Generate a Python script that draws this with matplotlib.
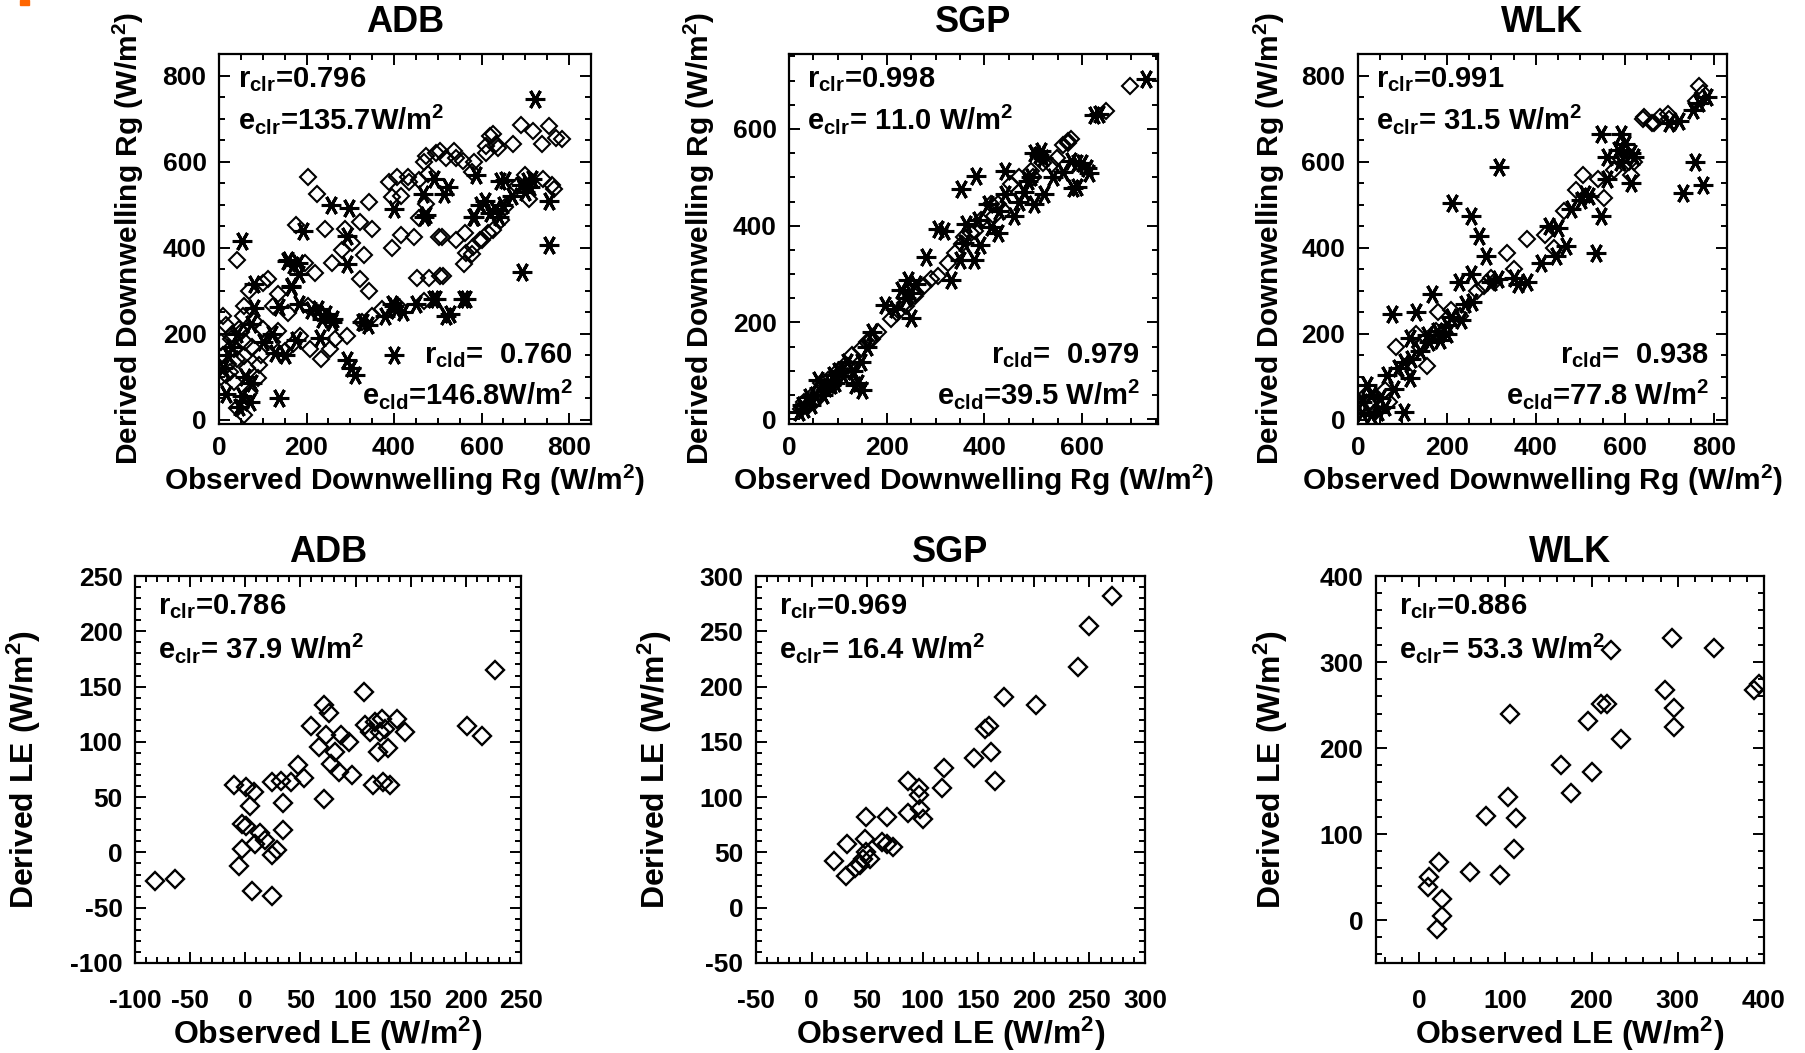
"""
Derived vs observed downwelling shortwave (Rg) and latent heat (LE)
at ADB / SGP / WLK — clear-sky (diamonds) and cloudy (asterisks) samples.
"""

import matplotlib
matplotlib.use("Agg")
import matplotlib.pyplot as plt
from matplotlib.patches import Rectangle
from matplotlib.ticker import MultipleLocator

plt.rcParams.update({
    "font.family": ["Liberation Sans", "DejaVu Sans"],
    "font.weight": "bold",
    "mathtext.default": "regular",
    "axes.linewidth": 1.6,
    "axes.unicode_minus": False,
})

W, H = 1805, 1053   # output size in pixels (dpi 100)

SITES = ["ADB", "SGP", "WLK"]

# ---- Row 1: downwelling Rg (W/m2) ---------------------------------------
ADB_RG_CLR_OBS = [204, 223, 177, 242, 288, 323, 342, 350, 304, 281, 331, 323, 342, 258, 219,
                  196, 388, 407, 396, 415, 434, 457, 477, 469, 496, 519, 538, 557, 577, 473,
                  457, 396, 415, 446, 503, 542, 561, 565, 581, 596, 615, 611, 619, 638,
                  453, 511, 469, 411, 373, 350, 327, 292, 265, 254, 234, 207, 184, 134, 123,
                  134, 157, 111, 100, 69, 58, 50, 35, 58, 88, 69, 27, 15, 35, 42, 58, 92,
                  227, 204, 42, 625, 690, 717, 755, 769, 783, 737, 671, 634, 611, 583, 542,
                  505, 473, 431, 765, 708, 680, 699, 653, 645, 625, 602, 579, 560, 509, 505,
                  480, 740, 760, 10, 20, 5, 30, 15, 45, 60, 75, 25, 40, 80, 100, 120, 150,
                  170, 10, 55, 65, 5, 95]
ADB_RG_CLR_DER = [565, 525, 452, 444, 444, 460, 506, 444, 410, 395, 383, 326, 299, 364, 341,
                  364, 552, 563, 517, 521, 552, 556, 571, 598, 621, 609, 625, 601, 575, 502,
                  468, 399, 429, 425, 425, 418, 433, 387, 402, 418, 433, 636, 659, 632,
                  330, 333, 276, 261, 257, 241, 226, 195, 188, 165, 142, 165, 195, 207, 264,
                  291, 249, 326, 318, 299, 264, 203, 165, 149, 96, 61, 188, 103, 88, 27, 11, 126,
                  249, 264, 372, 663, 686, 671, 682, 655, 652, 640, 640, 640, 621, 598, 609,
                  625, 613, 563, 536, 513, 544, 569, 494, 463, 440, 417, 386, 363, 425, 333,
                  330, 560, 545, 150, 130, 180, 200, 220, 210, 180, 170, 110, 140, 230, 210, 180, 160,
                  175, 240, 240, 120, 100, 150]
ADB_RG_CLD_OBS = [722, 753, 753, 693, 703, 690, 715, 653, 607, 583, 630, 524, 492, 588, 473,
                  399, 565, 528, 496, 399, 405, 399, 330, 302, 311, 293, 261, 245, 210, 182,
                  164, 182, 155, 170, 191, 136, 136, 53, 293, 293, 256, 297, 72, 80, 40, 20,
                  53, 70, 127, 120, 150, 81, 76, 10, 30, 60, 45, 15, 100, 175, 230, 340, 380,
                  420, 450, 620, 650, 670, 700, 710, 640, 158, 181, 165, 227, 235, 258, 327,
                  396, 488, 519, 557, 581, 596, 642, 465, 515, 469]
ADB_RG_CLD_DER = [746, 509, 405, 343, 554, 545, 560, 557, 509, 471, 490, 540, 559, 569, 475,
                  490, 281, 246, 281, 265, 255, 150, 227, 119, 104, 138, 235, 245, 254, 269,
                  308, 338, 369, 360, 438, 261, 50, 415, 361, 427, 500, 492, 223, 260, 200, 150,
                  54, 40, 154, 200, 150, 315, 85, 120, 170, 100, 30, 60, 180, 185, 190, 220, 240,
                  250, 270, 480, 500, 520, 530, 540, 470, 372, 364, 310, 257, 234, 226, 226,
                  268, 280, 241, 280, 471, 498, 555, 525, 525, 471]

SGP_RG_CLR_OBS = [697, 649, 578, 570, 325, 339, 353, 359, 372, 393, 413, 427, 454, 471, 495,
                  536, 549, 560, 570, 305, 277, 257, 237, 209, 182, 148, 128, 114, 101, 74,
                  60, 45, 30, 80, 90, 100, 120, 160, 170, 220, 240, 260, 290, 380, 420, 440,
                  520, 470, 500, 40, 55, 65, 25]
SGP_RG_CLR_DER = [689, 638, 580, 575, 322, 343, 363, 377, 384, 411, 445, 445, 486, 500, 513,
                  526, 540, 567, 570, 295, 275, 254, 240, 207, 180, 145, 132, 112, 91, 60,
                  55, 45, 35, 80, 70, 100, 110, 160, 165, 220, 235, 260, 290, 390, 420, 430,
                  530, 470, 500, 30, 40, 75, 20]
SGP_RG_CLD_OBS = [731, 634, 625, 582, 614, 590, 511, 520, 495, 480, 352, 383, 441, 502, 516,
                  488, 502, 522, 577, 590, 441, 407, 386, 318, 305, 362, 413, 427, 379, 332,
                  281, 359, 390, 243, 230, 217, 196, 169, 148, 141, 118, 90, 95, 53, 26, 75,
                  100, 60, 40, 30, 20, 45, 70, 85, 110, 130, 160, 250, 240, 260, 430, 460,
                  470, 540, 560, 600, 610, 250, 350, 150, 135]
SGP_RG_CLD_DER = [704, 631, 628, 477, 508, 530, 546, 540, 500, 470, 475, 503, 513, 550, 554,
                  492, 445, 465, 533, 479, 465, 445, 411, 390, 394, 404, 397, 384, 329, 288,
                  336, 364, 360, 288, 268, 227, 237, 180, 118, 74, 118, 91, 75, 50, 30, 65,
                  100, 80, 45, 20, 15, 30, 50, 70, 90, 100, 150, 260, 250, 280, 430, 420,
                  450, 500, 510, 530, 520, 210, 330, 60, 70]

WLK_RG_CLR_OBS = [85, 156, 130, 381, 336, 283, 268, 306, 441, 463, 505, 490, 553, 576, 591,
                  609, 614, 640, 662, 766, 775, 679, 666, 697, 644, 180, 210, 175, 140, 105,
                  60, 30, 40, 70, 230, 300, 350, 420, 540, 600, 620, 700, 760, 20]
WLK_RG_CLR_DER = [169, 125, 200, 419, 388, 311, 300, 320, 400, 484, 569, 534, 515, 580, 607,
                  600, 569, 700, 690, 776, 760, 703, 690, 710, 703, 250, 255, 205, 170, 110,
                  70, 40, 20, 40, 240, 330, 350, 430, 560, 620, 600, 700, 740, 60]
WLK_RG_CLD_OBS = [317, 212, 254, 272, 287, 167, 77, 130, 209, 231, 227, 254, 257, 314, 359,
                  411, 445, 467, 430, 450, 535, 546, 546, 591, 584, 614, 614, 501, 510, 480,
                  561, 156, 118, 178, 201, 104, 66, 29, 81, 8, 44, 103, 21, 118, 758, 731,
                  775, 766, 723, 754, 786, 10, 30, 50, 60, 90, 120, 140, 160, 185, 200, 240,
                  300, 350, 380, 520, 560, 590, 620, 600, 700]
WLK_RG_CLD_DER = [588, 504, 473, 427, 381, 292, 246, 250, 238, 231, 319, 338, 273, 327, 315,
                  365, 381, 404, 450, 445, 388, 473, 665, 665, 627, 619, 550, 511, 525, 490,
                  611, 196, 190, 205, 220, 133, 103, 57, 72, 15, 19, 19, 80, 96, 599, 526,
                  545, 737, 695, 720, 750, 40, 10, 50, 30, 120, 140, 160, 180, 185, 200, 270,
                  320, 330, 320, 520, 560, 600, 610, 640, 690]

# ---- Row 2: latent heat LE (W/m2), clear sky only -------------------------
ADB_LE_OBS = [-82, -64, -10, 1, 8, 4, 34, 24, 32, 41, 48, 53, 34, -3, 1, 13, 18, 9, -3, 24,
              29, -6, 6, 24, 71, 60, 71, 76, 67, 73, 78, 81, 85, 87, 94, 97, 108, 109, 113,
              118, 124, 122, 127, 120, 129, 116, 125, 131, 138, 145, 201, 215, 226]
ADB_LE_DER = [-26, -24, 61, 59, 55, 42, 45, 64, 65, 64, 79, 67, 20, 26, 24, 18, 11, 8, 3, -2,
              2, -12, -35, -39, 48, 114, 133, 126, 95, 106, 80, 91, 73, 106, 100, 70, 145, 115,
              109, 118, 121, 109, 112, 91, 94, 61, 64, 61, 121, 109, 114, 105, 165]

SGP_LE_OBS = [20, 31, 32, 39, 44, 46, 49, 49, 48, 53, 68, 63, 68, 73, 87, 87, 97, 97, 98, 100,
              119, 117, 146, 156, 160, 161, 165, 173, 202, 240, 250, 270]
SGP_LE_DER = [42, 29, 58, 36, 39, 44, 50, 82, 62, 44, 82, 59, 58, 55, 86, 115, 108, 102, 89, 80,
              126, 108, 135, 162, 164, 141, 115, 191, 183, 218, 255, 282]

WLK_LE_OBS = [12, 10, 23, 27, 27, 21, 59, 94, 78, 103, 112, 110, 105, 165, 176, 200, 196, 211,
              218, 234, 223, 285, 296, 296, 293, 342, 388, 394]
WLK_LE_DER = [50, 38, 68, 24, 5, -11, 56, 52, 121, 143, 119, 83, 239, 180, 148, 172, 231, 251,
              251, 211, 314, 268, 247, 225, 328, 316, 267, 274]

# ---- statistics printed in each panel ------------------------------------
RG_CLR_TEXT = [("0.796", "135.7W/m$^2$"), ("0.998", " 11.0 W/m$^2$"), ("0.991", " 31.5 W/m$^2$")]
RG_CLD_TEXT = [("0.760", "146.8W/m$^2$"), ("0.979", "39.5 W/m$^2$"), ("0.938", "77.8 W/m$^2$")]
LE_CLR_TEXT = [("0.786", " 37.9 W/m$^2$"), ("0.969", " 16.4 W/m$^2$"), ("0.886", " 53.3 W/m$^2$")]

RG_XLIM = [(0, 850), (0, 755), (0, 830)]
RG_YLIM = [(-10, 850), (-10, 755), (-10, 850)]
LE_XLIM = [(-100, 250), (-50, 300), (-50, 400)]
LE_YLIM = [(-100, 250), (-50, 300), (-50, 400)]
LE_MAJOR = [50, 50, 100]
LE_MINOR = [10, 10, 20]

# panel boxes in pixels: (left, right), rows share top/bottom
TOP_BOX = [(219, 591), (789, 1158), (1358, 1727)]
TOP_Y = (54, 424)
BOT_BOX = [(135, 521), (756, 1145), (1376, 1764)]
BOT_Y = (576, 963)
TOP_YLABEL_X = [128, 699, 1269]
BOT_YLABEL_X = [24, 655, 1271]

DIAMOND = dict(ls="none", marker="D", mfc="none", mec="black")
ASTERISK = dict(ls="none", marker=(6, 2, 90), color="black")


def add_panel(fig, xs, ys, xpad=9):
    x0, x1 = xs
    y0, y1 = ys
    ax = fig.add_axes([x0 / W, 1 - y1 / H, (x1 - x0) / W, (y1 - y0) / H])
    ax.tick_params(which="both", direction="in", top=True, right=True,
                   labelsize=19, pad=9, width=1.4)
    ax.tick_params(axis="x", which="both", pad=xpad)
    ax.tick_params(which="major", length=8)
    ax.tick_params(which="minor", length=4)
    return ax


def label_panel(fig, xs, ys, ylabel_x, title, title_y, xlabel, xlabel_y, ylabel, size):
    cx = (xs[0] + xs[1]) / 2
    cy = (ys[0] + ys[1]) / 2
    fig.text(cx / W, 1 - title_y / H, title, ha="center", va="center", fontsize=26)
    fig.text(cx / W, 1 - xlabel_y / H, xlabel, ha="center", va="center", fontsize=size)
    fig.text(ylabel_x / W, 1 - cy / H, ylabel, ha="center", va="center",
             rotation=90, fontsize=size)


fig = plt.figure(figsize=(W / 100, H / 100), dpi=100)
fig.patches.append(Rectangle((20 / W, 1 - 5 / H), 9 / W, 5 / H, transform=fig.transFigure,
                             color="#ff6600", zorder=5))

rg_clr = [(ADB_RG_CLR_OBS, ADB_RG_CLR_DER), (SGP_RG_CLR_OBS, SGP_RG_CLR_DER),
          (WLK_RG_CLR_OBS, WLK_RG_CLR_DER)]
rg_cld = [(ADB_RG_CLD_OBS, ADB_RG_CLD_DER), (SGP_RG_CLD_OBS, SGP_RG_CLD_DER),
          (WLK_RG_CLD_OBS, WLK_RG_CLD_DER)]
le_clr = [(ADB_LE_OBS, ADB_LE_DER), (SGP_LE_OBS, SGP_LE_DER), (WLK_LE_OBS, WLK_LE_DER)]

for i, site in enumerate(SITES):
    # --- Rg panel
    ax = add_panel(fig, TOP_BOX[i], TOP_Y)
    ax.plot(*rg_clr[i], ms=8, mew=1.5, **DIAMOND)
    ax.plot(*rg_cld[i], ms=14, mew=2.2, **ASTERISK)
    ax.set_xlim(*RG_XLIM[i])
    ax.set_ylim(*RG_YLIM[i])
    ax.xaxis.set_major_locator(MultipleLocator(200))
    ax.yaxis.set_major_locator(MultipleLocator(200))
    ax.xaxis.set_minor_locator(MultipleLocator(50))
    ax.yaxis.set_minor_locator(MultipleLocator(50))
    r, e = RG_CLR_TEXT[i]
    ax.text(0.05, 0.93, f"r$_{{clr}}$={r}", transform=ax.transAxes, fontsize=21, va="center")
    ax.text(0.05, 0.825, f"e$_{{clr}}$={e}", transform=ax.transAxes, fontsize=21, va="center")
    r, e = RG_CLD_TEXT[i]
    ax.text(0.95, 0.185, f"r$_{{cld}}$=  {r}", transform=ax.transAxes, fontsize=21,
            va="center", ha="right")
    ax.text(0.95, 0.08, f"e$_{{cld}}$={e}", transform=ax.transAxes, fontsize=21,
            va="center", ha="right")
    label_panel(fig, TOP_BOX[i], TOP_Y, TOP_YLABEL_X[i], site, 23,
                "Observed Downwelling Rg (W/m$^2$)", 480,
                "Derived Downwelling Rg (W/m$^2$)", 21.5)

    # --- LE panel
    ax = add_panel(fig, BOT_BOX[i], BOT_Y, xpad=19)
    ax.plot(*le_clr[i], ms=9.5, mew=1.7, **DIAMOND)
    ax.set_xlim(*LE_XLIM[i])
    ax.set_ylim(*LE_YLIM[i])
    ax.xaxis.set_major_locator(MultipleLocator(LE_MAJOR[i]))
    ax.yaxis.set_major_locator(MultipleLocator(LE_MAJOR[i]))
    ax.xaxis.set_minor_locator(MultipleLocator(LE_MINOR[i]))
    ax.yaxis.set_minor_locator(MultipleLocator(LE_MINOR[i]))
    r, e = LE_CLR_TEXT[i]
    ax.text(0.06, 0.92, f"r$_{{clr}}$={r}", transform=ax.transAxes, fontsize=21, va="center")
    ax.text(0.06, 0.815, f"e$_{{clr}}$={e}", transform=ax.transAxes, fontsize=21, va="center")
    label_panel(fig, BOT_BOX[i], BOT_Y, BOT_YLABEL_X[i], site, 553,
                "Observed LE (W/m$^2$)", 1034, "Derived LE (W/m$^2$)", 23)

fig.savefig("out.png", dpi=100, facecolor="white")
